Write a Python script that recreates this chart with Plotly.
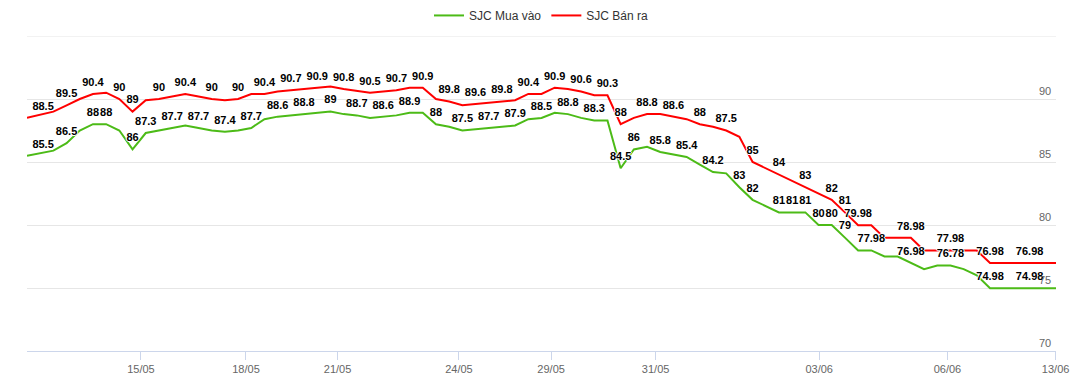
import plotly.graph_objects as go

# ---------------- data ----------------
mua_vao = [85.5, 85.7, 85.9, 86.5, 87.5, 88, 88, 87.5, 86, 87.3,
           87.5, 87.7, 87.9, 87.7, 87.5, 87.4, 87.5, 87.7, 88.4, 88.6,
           88.7, 88.8, 88.9, 89, 88.8, 88.7, 88.5, 88.6, 88.7, 88.9,
           88.9, 88, 87.8, 87.5, 87.6, 87.7, 87.8, 87.9, 88.4, 88.5,
           88.9, 88.8, 88.5, 88.3, 88.3, 84.5, 86, 86.2, 85.8, 85.6,
           85.4, 84.8, 84.2, 84.1, 83, 82, 81.5, 81, 81, 81,
           80, 80, 79, 77.98, 77.98, 77.5, 77.5, 76.98, 76.5, 76.78,
           76.78, 76.5, 76.0, 74.98, 74.98, 74.98, 74.98, 74.98, 74.98]

ban_ra = [88.5, 88.75, 89, 89.5, 90, 90.4, 90.5, 90, 89, 89.9,
          90, 90.2, 90.4, 90.2, 90, 89.9, 90, 90.4, 90.4, 90.6,
          90.7, 90.8, 90.9, 91, 90.8, 90.65, 90.5, 90.6, 90.7, 90.9,
          90.9, 90, 89.8, 89.5, 89.6, 89.7, 89.8, 89.9, 90.4, 90.4,
          90.9, 90.8, 90.6, 90.3, 90.3, 88, 88.5, 88.8, 88.8, 88.6,
          88.4, 88, 87.8, 87.5, 87, 85, 84.5, 84, 83.5, 83,
          82.5, 82, 81, 79.98, 79.98, 78.98, 78.98, 78.98, 77.98, 77.98,
          77.98, 77.98, 77.98, 76.98, 76.98, 76.98, 76.98, 76.98, 76.98]

# points whose value labels are shown (others hidden, as in the reference)
mua_label_idx = [0, 3, 5, 6, 8, 9, 11, 13, 15, 17, 19, 21, 23, 25, 27, 29, 31,
                 33, 35, 37, 39, 41, 43, 45, 46, 48, 50, 52, 54, 55, 57, 58,
                 59, 60, 61, 62, 64, 67, 70, 73, 76]
ban_label_idx = [0, 3, 5, 7, 8, 10, 12, 14, 16, 18, 20, 22, 24, 26, 28, 30, 32,
                 34, 36, 38, 40, 42, 44, 45, 47, 49, 51, 53, 55, 57, 59, 61,
                 62, 63, 67, 70, 73, 76]

tick_labels = ["15/05", "18/05", "21/05", "24/05", "29/05", "31/05", "03/06", "06/06", "13/06"]
tick_pos = [8.64, 16.6, 23.54, 32.74, 39.73, 47.65, 60.05, 69.77, 77.97]

y_ticks = [70, 75, 80, 85, 90]

# ---------------- figure ----------------
FONT = "Liberation Sans, Arial, sans-serif"
x = list(range(len(mua_vao)))


def labels(vals, idx):
    s = set(idx)
    return [f"{v:g}" if i in s else "" for i, v in enumerate(vals)]


def positions(n):
    return ["top right" if i == 0 else "top center" for i in range(n)]


outline = "1px 0 0 #fff, -1px 0 0 #fff, 0 1px 0 #fff, 0 -1px 0 #fff"
series = [("SJC Mua vào", mua_vao, mua_label_idx, "#4cbb17"),
          ("SJC Bán ra", ban_ra, ban_label_idx, "#ff0000")]

fig = go.Figure()
for name, vals, idx, color in series:
    fig.add_trace(go.Scatter(
        x=x, y=vals, name=name, mode="lines",
        line=dict(color=color, width=2),
    ))
for name, vals, idx, color in series:
    fig.add_trace(go.Scatter(
        x=x, y=vals, name=name, mode="markers+text", showlegend=False,
        marker=dict(size=7, color=color, opacity=0),
        text=labels(vals, idx), textposition=positions(len(x)),
        textfont=dict(family=FONT, size=11, color="#000", weight="bold", shadow=outline),
        cliponaxis=False, hoverinfo="skip",
    ))

fig.update_layout(
    width=1081, height=386,
    margin=dict(l=27, r=25, t=36, b=35, autoexpand=False),
    paper_bgcolor="#fff", plot_bgcolor="#fff",
    font=dict(family=FONT, size=12, color="#333"),
    showlegend=True,
    legend=dict(orientation="h", x=0.5, xanchor="center",
                yref="container", y=0.96, yanchor="middle",
                font=dict(size=12, color="#333"), itemwidth=30),
    xaxis=dict(
        range=[0, 78], tickmode="array", tickvals=tick_pos, ticktext=tick_labels,
        showgrid=False, zeroline=False, showline=True, linecolor="#ccd6eb", linewidth=1,
        ticks="outside", ticklen=8, tickcolor="#ccd6eb", automargin=False,
        ticklabeloverflow="allow",
        tickfont=dict(size=11, color="#666"),
    ),
    yaxis=dict(
        range=[70, 95], tickmode="array", tickvals=y_ticks, side="right",
        ticklabelposition="outside top", ticklabelstandoff=-18,
        ticklabeloverflow="allow",
        showgrid=True, gridcolor="#e6e6e6",
        zeroline=False, showline=False, ticks="", automargin=False,
        tickfont=dict(size=11, color="#666"),
    ),
    shapes=[dict(type="line", xref="paper", x0=0, x1=1, yref="y", y0=95, y1=95,
                 line=dict(color="#e6e6e6", width=1), layer="below")],
)

fig.write_html("out.html", config={"displayModeBar": False},
               post_script="document.body.style.margin='0';")
